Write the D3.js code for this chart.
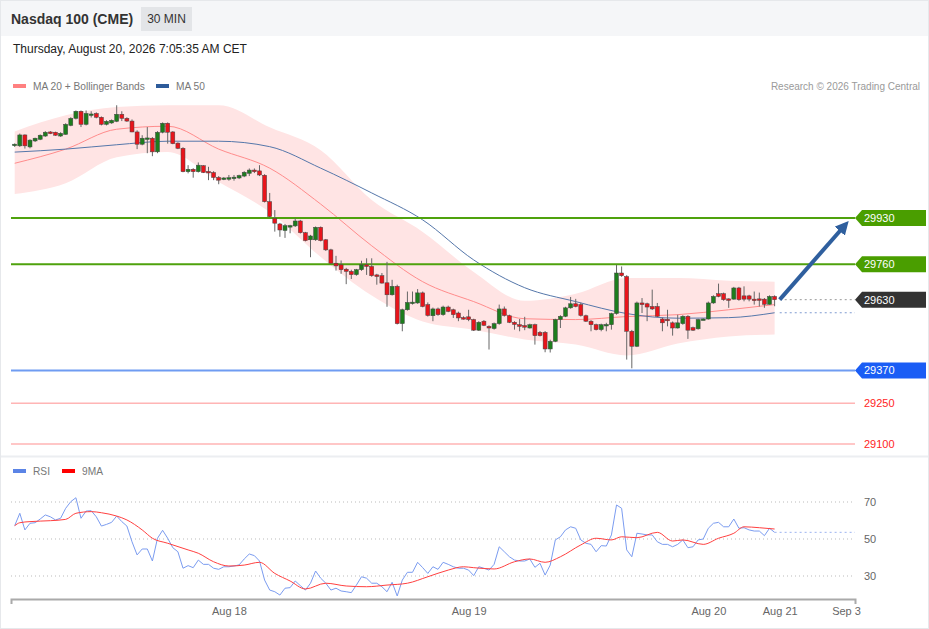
<!DOCTYPE html>
<html>
<head>
<meta charset="utf-8">
<script src="https://cdn.jsdelivr.net/npm/d3@7"></script>
<style>
  body { margin: 0; background: #fff; }
  svg text { font-family: Arial, "Liberation Sans", sans-serif; }
</style>
</head>
<body>
<svg id="chart" width="929" height="629"></svg>
<script>
// candles: [open, high, low, close], 30 min bars
const candles = [
  [30199,30204,30191,30201],[30195,30240,30191,30235],[30235,30237,30185,30195],[30191,30219,30186,30216],
  [30213,30225,30209,30223],[30219,30237,30216,30234],[30231,30249,30228,30245],[30246,30249,30238,30240],
  [30245,30247,30232,30234],[30231,30245,30228,30241],[30237,30278,30236,30274],[30270,30300,30267,30296],
  [30296,30325,30292,30322],[30322,30325,30264,30274],[30274,30325,30270,30314],[30310,30322,30299,30312],
  [30314,30318,30296,30300],[30300,30303,30270,30274],[30274,30289,30270,30285],[30279,30292,30276,30289],
  [30285,30344,30282,30311],[30311,30322,30286,30296],[30296,30300,30283,30286],[30286,30292,30245,30246],
  [30246,30252,30183,30201],[30201,30234,30197,30223],[30222,30264,30168,30224],[30223,30227,30157,30173],
  [30173,30249,30168,30245],[30245,30281,30241,30278],[30278,30281,30203,30245],[30246,30249,30201,30203],
  [30205,30208,30183,30186],[30186,30190,30098,30100],[30100,30124,30094,30109],[30109,30113,30078,30100],
  [30100,30134,30097,30124],[30122,30124,30095,30097],[30101,30118,30069,30098],[30097,30102,30069,30079],
  [30079,30084,30054,30069],[30072,30080,30069,30077],[30076,30088,30067,30078],[30078,30088,30067,30080],
  [30077,30089,30073,30086],[30084,30102,30080,30098],[30094,30112,30084,30106],[30106,30112,30095,30100],
  [30103,30124,30084,30088],[30087,30091,29987,29990],[29990,30022,29932,29935],[29928,29959,29880,29911],
  [29908,29912,29861,29886],[29884,29908,29857,29902],[29900,29905,29874,29902],[29901,29929,29897,29919],
  [29919,29923,29873,29876],[29876,29879,29844,29847],[29850,29868,29786,29864],[29850,29899,29846,29896],
  [29896,29899,29844,29847],[29850,29853,29809,29813],[29813,29817,29762,29764],[29764,29791,29737,29754],
  [29758,29774,29725,29740],[29742,29747,29687,29734],[29734,29740,29706,29722],[29722,29743,29718,29740],
  [29740,29773,29736,29758],[29758,29782,29721,29752],[29752,29782,29714,29718],[29721,29725,29685,29715],
  [29718,29728,29689,29691],[29692,29769,29604,29648],[29648,29703,29645,29679],[29679,29685,29539,29542],
  [29542,29597,29514,29593],[29593,29660,29590,29620],[29619,29660,29612,29621],[29618,29669,29615,29655],
  [29655,29660,29602,29605],[29612,29620,29568,29572],[29571,29601,29551,29596],[29596,29601,29571,29575],
  [29575,29608,29571,29603],[29603,29608,29584,29587],[29593,29597,29563,29575],[29581,29586,29551,29563],
  [29564,29569,29557,29562],[29567,29593,29551,29557],[29557,29560,29515,29518],[29518,29551,29515,29547],
  [29551,29555,29533,29536],[29532,29536,29447,29526],[29524,29546,29520,29542],[29542,29612,29538,29596],
  [29596,29605,29568,29572],[29571,29575,29544,29547],[29547,29551,29520,29539],[29538,29559,29514,29532],
  [29535,29567,29518,29529],[29526,29542,29524,29538],[29538,29542,29465,29498],[29510,29515,29495,29498],
  [29510,29515,29437,29449],[29449,29483,29436,29477],[29477,29560,29474,29557],[29557,29573,29526,29569],
  [29569,29604,29566,29600],[29600,29640,29597,29615],[29615,29633,29602,29605],[29612,29619,29568,29572],
  [29571,29575,29548,29551],[29551,29555,29514,29538],[29538,29542,29517,29520],[29520,29542,29514,29538],
  [29537,29545,29514,29539],[29538,29582,29520,29579],[29579,29758,29575,29728],[29728,29752,29714,29718],
  [29715,29720,29410,29514],[29514,29519,29378,29459],[29459,29623,29456,29618],[29618,29636,29581,29612],
  [29615,29619,29551,29603],[29605,29667,29592,29596],[29605,29618,29566,29569],[29559,29564,29514,29545],
  [29558,29593,29532,29556],[29545,29550,29498,29526],[29526,29575,29524,29545],[29542,29573,29538,29569],
  [29569,29573,29486,29518],[29527,29531,29515,29518],[29523,29560,29520,29557],[29557,29562,29555,29559],
  [29559,29623,29557,29618],[29618,29646,29615,29642],[29652,29689,29639,29642],[29652,29656,29626,29630],
  [29633,29635,29600,29631],[29632,29677,29630,29673],[29673,29677,29626,29630],[29644,29679,29624,29632],
  [29644,29648,29624,29632],[29632,29660,29612,29630],[29633,29656,29605,29631],[29632,29636,29600,29613],
  [29613,29646,29612,29642],[29642,29646,29606,29630]
];

// overlays sampled at candle index
const bandIdx   = [0, 10, 20, 30, 40, 50, 60, 70, 80, 90, 100, 110, 120, 130, 140, 149];
const bandUpper = [30248,30307,30338,30344,30344,30263,30179,29996,29879,29732,29626,29652,29710,29710,29700,29696];
const bandLower = [30018,30058,30153,30172,30062,29952,29787,29645,29550,29520,29484,29465,29425,29469,29495,29502];
const ma20      = [30131,30183,30256,30267,30183,30113,29981,29828,29696,29623,29560,29557,29568,29575,29593,29612];
const ma50      = [30172,30183,30199,30212,30212,30192,30113,30022,29923,29776,29674,29623,29579,29562,29564,29582];

const rsi = [
  57.2,63.9,54.9,58.5,58.8,60.8,63,62,60.3,61.2,66.6,70.2,72.3,61.2,65.1,65.3,62,57,57.9,59,
  62.4,59.4,57,48.5,41.4,44.6,44.6,38.1,50.4,54.7,50.4,45.3,43.1,34.2,35.6,34.5,38.6,36.3,36.3,34.2,
  33.6,35,35,35.4,36,39.2,41.9,41,38.1,27.8,22.4,21.5,19.7,23.4,23.7,27.3,24.8,22.4,26.1,32.7,
  28.8,26.1,22.4,23.4,21.9,21.5,21,25.1,29.6,28.8,26.1,26.1,24.2,21.5,26.6,19.2,27.8,32,32,37.4,
  34.5,31.4,35,33.6,37.4,36.3,35,34.2,34.2,33.2,30.2,35,34.2,33.2,36.3,45.8,43.1,40.4,38.6,38.1,
  38.1,39.2,34.7,36.9,30.5,35.9,49.5,51.2,54.9,56.6,55.8,49.5,47.7,47.1,43.1,46.4,46.2,52.2,68.4,66.6,
  44.1,40.4,53.1,52.7,52.2,52.2,48.5,47.1,47.1,45.8,47.1,49.5,45.3,45.8,49.5,50,55.8,58.5,59,56.6,
  56.6,60.8,55.8,56.1,54.9,54.3,54.3,51.8,55.8,53.6
];
const ma9Idx = [0,1,3,7,10,12,15,17,20,22,25,27,30,34,36,39,42,45,48,51,54,57,61,65,69,73,77,81,85,88,
  90,94,98,101,104,107,111,114,117,119,122,126,129,131,135,138,141,143,146,149];
const ma9 = [57.2,58.8,59.4,59.9,60.6,63.9,64.8,64.2,62.4,60.3,54.9,50.4,47.7,44.1,42.3,37.7,35.4,35.9,37.4,31.4,
  27.3,23,26.1,24.6,24.2,25.1,26.1,29.6,33.2,35,34.5,33.8,37.7,39.2,37.4,40.4,46.8,50.4,49.5,51.2,
  50.7,53.6,48.9,49.5,47.1,50.4,53.1,56.6,56.1,55.4];

const rsiTicks = [70, 50, 30];
const dateTicks = [42, 89, 136, 150, 163];
const dateLabels = ['Aug 18', 'Aug 19', 'Aug 20', 'Aug 21', 'Sep 3'];

const resistances = [29930, 29760];
const lastPrice = 29630;
const support = 29370;
const weakSupports = [29250, 29100];
const arrowTo = { i: 164, price: 29930 };

const svg = d3.select('#chart');
const W = 929, H = 629;
const left = 11, right = 855;

const x = d3.scaleLinear().domain([-0.725, 164.76]).range([left, right]);
const y = d3.scaleLinear().domain([29100, 29930]).range([444, 218]);
const yR = d3.scaleLinear().domain([30, 70]).range([576, 502]);

// frame
svg.append('rect').attr('x', 0.5).attr('y', 0.5).attr('width', W - 1).attr('height', H - 1)
  .attr('fill', '#fff').attr('stroke', '#e6e8eb');
svg.append('rect').attr('x', 1).attr('y', 1).attr('width', W - 2).attr('height', 35).attr('fill', '#f5f6f8');
svg.append('line').attr('x1', 1).attr('x2', W - 1).attr('y1', 456.5).attr('y2', 456.5)
  .attr('stroke', '#eceef1').attr('stroke-width', 2);

svg.append('text').attr('x', 11).attr('y', 24).attr('font-size', 14).attr('font-weight', 'bold')
  .attr('fill', '#333').text('Nasdaq 100 (CME)');
svg.append('rect').attr('x', 141).attr('y', 7).attr('width', 51).attr('height', 24).attr('fill', '#e3e5e8');
svg.append('text').attr('x', 166.5).attr('y', 23).attr('text-anchor', 'middle').attr('font-size', 12)
  .attr('fill', '#333').text('30 MIN');
svg.append('text').attr('x', 13).attr('y', 53).attr('font-size', 12).attr('fill', '#222')
  .text('Thursday, August 20, 2026 7:05:35 AM CET');

// legends
function legendItem(x0, y0, color, label) {
  svg.append('rect').attr('x', x0).attr('y', y0 - 2).attr('width', 13).attr('height', 4).attr('fill', color);
  svg.append('text').attr('x', x0 + 20).attr('y', y0 + 4).attr('font-size', 10.2).attr('fill', '#777').text(label);
}
legendItem(13, 86, '#ff8080', 'MA 20 + Bollinger Bands');
legendItem(156, 86, '#2d5b9a', 'MA 50');
svg.append('text').attr('x', 920).attr('y', 90).attr('text-anchor', 'end').attr('font-size', 10)
  .attr('fill', '#9a9a9a').text('Research \u00a9 2026 Trading Central');
legendItem(13, 471, '#5b84e6', 'RSI');
legendItem(62, 471, '#ff0000', '9MA');

// bollinger band + MAs
const band = bandIdx.map((i, k) => ({ i, up: bandUpper[k], lo: bandLower[k], m20: ma20[k], m50: ma50[k] }));
svg.append('path').datum(band)
  .attr('d', d3.area().x(d => x(d.i)).y0(d => y(d.lo)).y1(d => y(d.up)).curve(d3.curveMonotoneX))
  .attr('fill', '#ffe4e4');
svg.append('path').datum(band)
  .attr('d', d3.line().x(d => x(d.i)).y(d => y(d.m20)).curve(d3.curveMonotoneX))
  .attr('fill', 'none').attr('stroke', '#ff8c8c').attr('stroke-width', 1);
svg.append('path').datum(band)
  .attr('d', d3.line().x(d => x(d.i)).y(d => y(d.m50)).curve(d3.curveMonotoneX))
  .attr('fill', 'none').attr('stroke', '#5577aa').attr('stroke-width', 1);

// level lines
const lastI = candles.length - 1;
resistances.forEach(p => {
  svg.append('line').attr('x1', left).attr('x2', right).attr('y1', y(p)).attr('y2', y(p))
    .attr('stroke', '#4fa20d').attr('stroke-width', 2);
});
svg.append('line').attr('x1', left).attr('x2', right).attr('y1', y(support)).attr('y2', y(support))
  .attr('stroke', '#6f9cf2').attr('stroke-width', 2);
weakSupports.forEach(p => {
  svg.append('line').attr('x1', left).attr('x2', right).attr('y1', y(p)).attr('y2', y(p))
    .attr('stroke', '#ff8f8f').attr('stroke-width', 1);
});
svg.append('line').attr('x1', x(lastI + 1)).attr('x2', right).attr('y1', y(lastPrice)).attr('y2', y(lastPrice))
  .attr('stroke', '#999').attr('stroke-dasharray', '2,3');
svg.append('line').attr('x1', x(lastI + 1)).attr('x2', right)
  .attr('y1', y(ma50[ma50.length - 1])).attr('y2', y(ma50[ma50.length - 1]))
  .attr('stroke', '#7f9bd0').attr('stroke-dasharray', '2,3');

// candles
const g = svg.append('g');
const cs = g.selectAll('g.c').data(candles).enter().append('g').attr('class', 'c');
cs.append('line')
  .attr('x1', (d, i) => x(i)).attr('x2', (d, i) => x(i))
  .attr('y1', d => y(d[1])).attr('y2', d => y(d[2]))
  .attr('stroke', '#666').attr('stroke-width', 1);
cs.append('rect')
  .attr('x', (d, i) => x(i) - 2).attr('width', 4)
  .attr('y', d => y(Math.max(d[0], d[3])))
  .attr('height', d => Math.max(1.5, Math.abs(y(d[0]) - y(d[3]))))
  .attr('fill', d => d[3] >= d[0] ? '#1d7d1d' : '#e8141b')
  .attr('stroke', '#444').attr('stroke-width', 0.5);

// arrow
svg.append('defs').append('marker')
  .attr('id', 'arrowhead').attr('viewBox', '0 -5 10 10')
  .attr('refX', 6).attr('refY', 0).attr('markerWidth', 3.4).attr('markerHeight', 3.4)
  .attr('orient', 'auto')
  .append('path').attr('d', 'M0,-5L10,0L0,5Z').attr('fill', '#2f5f9e');
svg.append('line')
  .attr('x1', x(lastI + 1)).attr('y1', y(lastPrice))
  .attr('x2', x(arrowTo.i) - 6).attr('y2', y(arrowTo.price) + 7)
  .attr('stroke', '#2f5f9e').attr('stroke-width', 4).attr('marker-end', 'url(#arrowhead)');

// right tags
function tag(p, bg) {
  const yy = y(p);
  svg.append('path')
    .attr('d', `M${right},${yy} L${right + 7},${yy - 8} H926 V${yy + 8} H${right + 7} Z`)
    .attr('fill', bg);
  svg.append('text').attr('x', 864).attr('y', yy + 4).attr('font-size', 11).attr('fill', '#fff').text(p);
}
resistances.forEach(p => tag(p, '#4a9e00'));
tag(lastPrice, '#333');
tag(support, '#1a5df5');
weakSupports.forEach(p => {
  svg.append('text').attr('x', 864).attr('y', y(p) + 4).attr('font-size', 11).attr('fill', '#ff2424').text(p);
});

// RSI panel
rsiTicks.forEach(v => {
  svg.append('line').attr('x1', left).attr('x2', right).attr('y1', yR(v)).attr('y2', yR(v))
    .attr('stroke', '#bbb').attr('stroke-dasharray', '1,3');
  svg.append('text').attr('x', 864).attr('y', yR(v) + 4).attr('font-size', 11).attr('fill', '#666').text(v);
});
svg.append('path').datum(rsi)
  .attr('d', d3.line().x((d, i) => x(i)).y(d => yR(d)))
  .attr('fill', 'none').attr('stroke', '#7b9cf0').attr('stroke-width', 1);
svg.append('line').attr('x1', x(lastI)).attr('x2', right)
  .attr('y1', yR(rsi[lastI])).attr('y2', yR(rsi[lastI]))
  .attr('stroke', '#9db4f0').attr('stroke-dasharray', '2,3');
svg.append('path').datum(ma9Idx.map((i, k) => [i, ma9[k]]))
  .attr('d', d3.line().x(d => x(d[0])).y(d => yR(d[1])).curve(d3.curveMonotoneX))
  .attr('fill', 'none').attr('stroke', '#ff4040').attr('stroke-width', 1);

// x axis
const axis = svg.append('g').attr('transform', 'translate(0,599)')
  .call(d3.axisBottom(x).tickValues(dateTicks).tickFormat((d, k) => dateLabels[k])
    .tickSizeInner(0).tickSizeOuter(5).tickPadding(8));
axis.select('.domain').attr('stroke', '#aaa').attr('stroke-width', 2);
axis.selectAll('text').attr('font-size', 11).attr('fill', '#666')
  .attr('font-family', 'Arial, "Liberation Sans", sans-serif');
</script>
</body>
</html>
